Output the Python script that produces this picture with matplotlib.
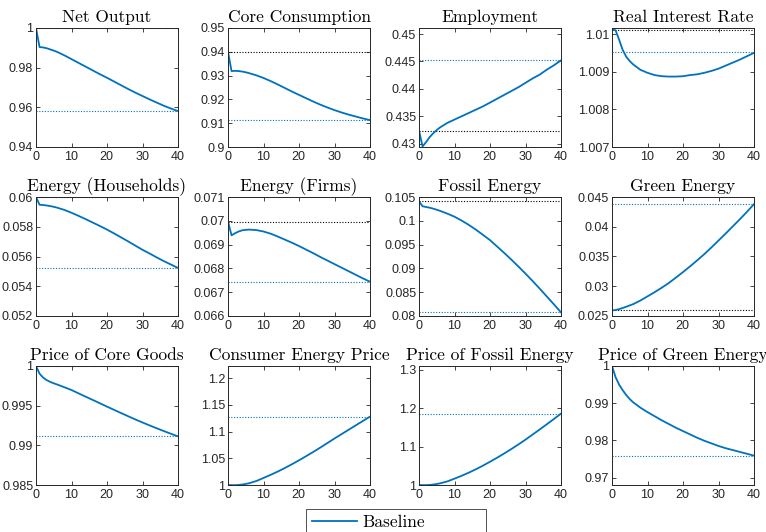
import matplotlib
matplotlib.use("Agg")
import matplotlib.pyplot as plt
from matplotlib.ticker import FuncFormatter

plt.rcParams['axes.formatter.use_mathtext'] = True

# ---------------- data ----------------
t = [0, 1, 2, 3, 4, 5, 6, 8, 10, 12, 14, 16, 18, 20, 22, 24, 26, 28, 30, 32, 34, 36, 38, 40]

titles = ["Net Output", "Core Consumption", "Employment", "Real Interest Rate",
          "Energy (Households)", "Energy (Firms)", "Fossil Energy", "Green Energy",
          "Price of Core Goods", "Consumer Energy Price", "Price of Fossil Energy",
          "Price of Green Energy"]

net_output = [1.0, 0.9904, 0.9902, 0.9898, 0.9892, 0.9886, 0.9879, 0.9862, 0.9843, 0.9824,
              0.9805, 0.9786, 0.9767, 0.9749, 0.9730, 0.9711, 0.9692, 0.9674, 0.9657, 0.9640,
              0.9624, 0.9608, 0.9594, 0.9581]
core_consumption = [0.9400, 0.9319, 0.9320, 0.9319, 0.9317, 0.9314, 0.9310, 0.9301, 0.9290, 0.9277,
                    0.9263, 0.9248, 0.9233, 0.9219, 0.9205, 0.9191, 0.9178, 0.9166, 0.9155, 0.9145,
                    0.9136, 0.9128, 0.9120, 0.9113]
employment = [0.4324, 0.4295, 0.4303, 0.4312, 0.4319, 0.4325, 0.4330, 0.4338, 0.4344, 0.4350,
              0.4356, 0.4362, 0.4368, 0.4375, 0.4382, 0.4389, 0.4396, 0.4403, 0.4411, 0.4419,
              0.4426, 0.4435, 0.4443, 0.4452]
real_rate = [1.01012, 1.01010, 1.00985, 1.00958, 1.00940, 1.00928, 1.00919, 1.00905, 1.00897, 1.00891,
             1.00888, 1.00887, 1.00887, 1.00888, 1.00891, 1.00893, 1.00897, 1.00902, 1.00908, 1.00916,
             1.00924, 1.00932, 1.00941, 1.00950]
energy_households = [0.06000, 0.05948, 0.05946, 0.05943, 0.05939, 0.05934, 0.05928, 0.05913, 0.05894, 0.05873,
                     0.05851, 0.05828, 0.05805, 0.05781, 0.05755, 0.05728, 0.05701, 0.05673, 0.05645, 0.05620,
                     0.05594, 0.05569, 0.05546, 0.05523]
energy_firms = [0.06997, 0.06939, 0.06948, 0.06955, 0.06960, 0.06962, 0.06963, 0.06961, 0.06955, 0.06946,
                0.06934, 0.06921, 0.06908, 0.06894, 0.06879, 0.06864, 0.06848, 0.06833, 0.06818, 0.06803,
                0.06788, 0.06773, 0.06758, 0.06744]
fossil_energy = [0.10410, 0.10305, 0.10290, 0.10275, 0.10255, 0.10232, 0.10207, 0.10150, 0.10086, 0.10005,
                 0.09915, 0.09815, 0.09705, 0.09594, 0.09460, 0.09325, 0.09185, 0.09040, 0.08890, 0.08735,
                 0.08575, 0.08410, 0.08245, 0.08077]
green_energy = [0.02595, 0.02600, 0.02615, 0.02635, 0.02655, 0.02678, 0.02700, 0.02760, 0.02830, 0.02900,
                0.02975, 0.03055, 0.03145, 0.03238, 0.03335, 0.03435, 0.03540, 0.03652, 0.03768, 0.03885,
                0.04005, 0.04125, 0.04250, 0.04380]
price_core = [1.0, 0.99904, 0.99854, 0.99822, 0.99800, 0.99782, 0.99766, 0.99732, 0.99697, 0.99655,
              0.99613, 0.99572, 0.99530, 0.99488, 0.99447, 0.99406, 0.99366, 0.99326, 0.99288, 0.99251,
              0.99215, 0.99180, 0.99146, 0.99113]
consumer_energy_price = [1.0, 0.9998, 0.9997, 1.0001, 1.0009, 1.0020, 1.0034, 1.0075, 1.0132, 1.0190,
                         1.0251, 1.0317, 1.0388, 1.0462, 1.0539, 1.0618, 1.0700, 1.0785, 1.0870, 1.0952,
                         1.1034, 1.1116, 1.1198, 1.1279]
price_fossil = [1.0, 0.9997, 0.9997, 1.0002, 1.0012, 1.0026, 1.0044, 1.0094, 1.0165, 1.0240,
                1.0320, 1.0408, 1.0503, 1.0605, 1.0710, 1.0820, 1.0935, 1.1055, 1.1180, 1.1312,
                1.1445, 1.1580, 1.1717, 1.1857]
price_green = [1.0, 0.9970, 0.9950, 0.9935, 0.9922, 0.9911, 0.9902, 0.9888, 0.9876, 0.9865,
               0.9854, 0.9844, 0.9834, 0.9825, 0.9816, 0.9807, 0.9799, 0.9792, 0.9785, 0.9779,
               0.9774, 0.9769, 0.9764, 0.9759]

series = [net_output, core_consumption, employment, real_rate,
          energy_households, energy_firms, fossil_energy, green_energy,
          price_core, consumer_energy_price, price_fossil, price_green]

init_ss = [1.0, 0.94, 0.4324, 1.01012, 0.0600, 0.06997, 0.10409, 0.02595, 1.0, 1.0, 1.0, 1.0]
final_ss = [0.9581, 0.9113, 0.4452, 1.00951, 0.05523, 0.06744, 0.08077, 0.04383, 0.99113, 1.1279, 1.1857, 0.97592]

ylims = [(0.94, 1.0), (0.9, 0.95), (0.4294, 0.4511), (1.007, 1.01016),
         (0.052, 0.060), (0.066, 0.071), (0.08, 0.105), (0.025, 0.045),
         (0.985, 1.0), (1.0, 1.2226), (1.0, 1.3096), (0.968, 1.0)]
yticks = [[0.94, 0.96, 0.98, 1.0], [0.9, 0.91, 0.92, 0.93, 0.94, 0.95],
          [0.43, 0.435, 0.44, 0.445, 0.45], [1.007, 1.008, 1.009, 1.01],
          [0.052, 0.054, 0.056, 0.058, 0.06], [0.066, 0.067, 0.068, 0.069, 0.07, 0.071],
          [0.08, 0.085, 0.09, 0.095, 0.1, 0.105], [0.025, 0.03, 0.035, 0.04, 0.045],
          [0.985, 0.99, 0.995, 1.0], [1.0, 1.05, 1.1, 1.15, 1.2],
          [1.0, 1.1, 1.2, 1.3], [0.97, 0.98, 0.99, 1.0]]
xticks = [0, 10, 20, 30, 40]
legend_label = "Baseline"

# ---------------- style ----------------
W, H = 766, 532
fig = plt.figure(figsize=(W / 100, H / 100), dpi=100)
blue = (0.0, 0.447, 0.741)
axcol = (0.15, 0.15, 0.15)
col_left = [36, 228, 419, 612]
row_top = [28, 197, 366]
aw, ah = 142, 119

fmt = FuncFormatter(lambda v, p: "{:g}".format(round(v, 6)))

line_handle = None
for i in range(12):
    r, c = divmod(i, 4)
    ax = fig.add_axes([col_left[c] / W, 1 - (row_top[r] + ah) / H, aw / W, ah / H])
    ax.axhline(init_ss[i], color='black', ls=(0, (1, 1.5)), lw=0.8)
    ax.axhline(final_ss[i], color=blue, ls=(0, (1, 1.5)), lw=0.8)
    ln, = ax.plot(t, series[i], color=blue, lw=1.3)
    line_handle = ln
    ax.set_xlim(0, 40)
    ax.set_ylim(*ylims[i])
    ax.set_xticks(xticks)
    ax.set_yticks(yticks[i])
    ax.yaxis.set_major_formatter(fmt)
    ax.tick_params(direction='in', length=3, width=0.6, top=True, right=True,
                   labelsize=9, colors=axcol, pad=2)
    for lab in ax.get_xticklabels() + ax.get_yticklabels():
        lab.set_fontfamily('Liberation Sans')
    for s in ax.spines.values():
        s.set_color(axcol)
        s.set_linewidth(0.7)
    ax.set_title(titles[i], fontfamily='cmr10', fontsize=12.5, pad=4)

leg = fig.legend([line_handle], [legend_label], loc='upper left',
                 bbox_to_anchor=(306 / W, 1 - 509 / H, 180 / W, 0.0001), mode='expand',
                 prop={'family': 'cmr10', 'size': 12.5}, frameon=True, fancybox=False,
                 handlelength=2.6, handletextpad=0.3, borderpad=0.35, borderaxespad=0)
leg.get_frame().set_edgecolor('black')
leg.get_frame().set_linewidth(0.6)

fig.savefig("out.png", dpi=100)
